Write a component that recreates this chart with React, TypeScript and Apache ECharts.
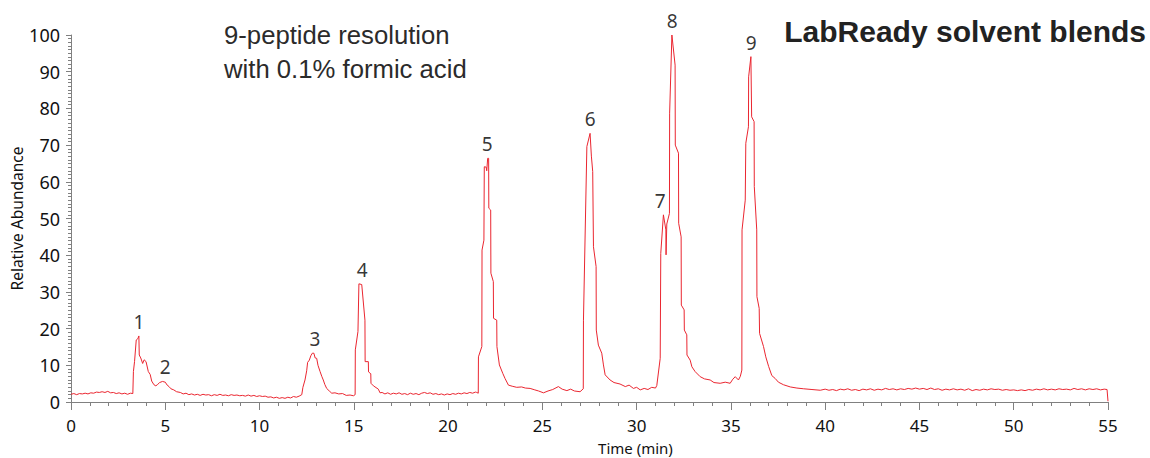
import React, { useEffect, useRef } from 'react';
import * as echarts from 'echarts';

// Chromatogram trace, [time (min), relative abundance (%)]
const baselineStart: number[][] = [
  [0, 2.1], [0.15, 2.3], [0.3, 2.0], [0.45, 2.3], [0.6, 2.2], [0.75, 2.4], [0.9, 2.2], [1.05, 2.5],
  [1.2, 2.4], [1.35, 2.7], [1.5, 2.6], [1.65, 2.8], [1.8, 2.6], [1.95, 2.9], [2.1, 2.5], [2.25, 2.6],
  [2.4, 2.3], [2.55, 2.5], [2.7, 2.2], [2.85, 2.4], [3.0, 2.1], [3.15, 2.4], [3.28, 2.3],
];
const peaks1and2: number[][] = [
  [3.3, 2.4], [3.31, 8.3], [3.37, 11.0], [3.46, 16.9], [3.55, 17.3], [3.6, 18.0], [3.62, 12.8],
  [3.7, 12.0], [3.8, 10.5], [3.88, 11.5], [3.98, 11.0], [4.1, 8.3], [4.2, 7.5], [4.28, 5.7],
  [4.4, 4.7], [4.5, 4.4], [4.6, 4.8], [4.7, 5.3], [4.85, 5.6], [5.0, 5.4], [5.1, 4.6], [5.2, 4.2],
  [5.3, 3.6], [5.45, 3.3], [5.6, 2.8],
];
const baselineMid1: number[][] = [
  [5.8, 2.6], [5.95, 2.2], [6.1, 2.4], [6.25, 2.0], [6.4, 2.2], [6.55, 1.9], [6.7, 2.1], [6.85, 1.8],
  [7.0, 2.1], [7.15, 1.9], [7.3, 2.0], [7.45, 1.7], [7.6, 2.0], [7.75, 1.8], [7.9, 2.1], [8.05, 1.8],
  [8.2, 1.9], [8.35, 1.7], [8.5, 2.0], [8.65, 1.8], [8.8, 1.9], [8.95, 1.7], [9.1, 1.8], [9.25, 1.6],
  [9.4, 1.9], [9.55, 1.6], [9.7, 1.8], [9.85, 1.5], [10.0, 1.7], [10.15, 1.5], [10.3, 1.6], [10.45, 1.3],
  [10.6, 1.4], [10.75, 1.1], [10.9, 1.3], [11.05, 1.0], [11.2, 1.2], [11.35, 1.0], [11.5, 1.3],
  [11.65, 1.1], [11.8, 1.5], [11.95, 1.3],
];
const peak3: number[][] = [
  [12.1, 1.6], [12.24, 2.0], [12.3, 4.0], [12.41, 6.0], [12.5, 8.5], [12.55, 10.8], [12.64, 11.4],
  [12.72, 12.6], [12.8, 13.3], [12.88, 13.3], [12.95, 12.0], [13.03, 11.9], [13.1, 10.0], [13.21, 8.3],
  [13.3, 7.0], [13.38, 6.0], [13.46, 4.8], [13.56, 3.7], [13.7, 3.0], [13.83, 2.4], [14.0, 2.5],
  [14.2, 2.2], [14.4, 2.3], [14.6, 1.8], [14.8, 1.9], [14.98, 1.7],
];
const peak4: number[][] = [
  [15.07, 2.0], [15.08, 14.2], [15.22, 19.2], [15.27, 32.2], [15.42, 32.0], [15.59, 22.3],
  [15.6, 11.0], [15.77, 11.0], [15.78, 8.2], [15.9, 7.7], [15.91, 5.1], [16.04, 4.4], [16.3, 3.5],
  [16.39, 2.5],
];
const baselineMid2: number[][] = [
  [16.5, 2.6], [16.65, 2.2], [16.8, 2.5], [16.95, 2.1], [17.1, 2.4], [17.25, 2.2], [17.4, 2.5],
  [17.55, 2.1], [17.7, 2.3], [17.85, 2.0], [18.0, 2.4], [18.15, 2.1], [18.3, 2.3], [18.45, 2.0],
  [18.6, 2.4], [18.75, 2.6], [18.9, 2.3], [19.05, 2.5], [19.2, 2.1], [19.35, 2.3], [19.5, 2.0],
  [19.65, 2.2], [19.8, 1.9], [19.95, 2.2], [20.1, 2.0], [20.25, 2.3], [20.4, 2.1], [20.55, 2.4],
  [20.7, 2.2], [20.85, 2.5], [21.0, 2.3], [21.15, 2.6], [21.3, 2.4], [21.45, 2.7],
];
const peaks5and6: number[][] = [
  [21.52, 2.6], [21.6, 2.4], [21.61, 12.3], [21.79, 15.1], [21.8, 41.4], [21.9, 44.1], [21.92, 64.1],
  [22.02, 64.0], [22.05, 63.0], [22.1, 66.4], [22.15, 66.4], [22.16, 52.8], [22.26, 52.3],
  [22.27, 35.1], [22.4, 32.8], [22.41, 22.8], [22.58, 22.3], [22.59, 15.1], [22.72, 10.1],
  [22.9, 7.8], [23.02, 6.4], [23.2, 4.6], [23.4, 4.3], [23.64, 4.0], [23.9, 4.1], [24.1, 3.8],
  [24.35, 3.7], [24.6, 3.3], [24.8, 3.0], [25.06, 2.5], [25.3, 3.0], [25.55, 3.4], [25.85, 4.2],
  [26.05, 3.5], [26.3, 3.1], [26.5, 3.5], [26.7, 3.0], [27.0, 2.8], [27.17, 3.6], [27.18, 22.3],
  [27.36, 69.6], [27.53, 73.2], [27.6, 67.0], [27.67, 62.8], [27.71, 42.3], [27.85, 36.9], [27.86, 19.6],
  [27.97, 15.5], [28.15, 13.3], [28.24, 10.1], [28.33, 7.4], [28.59, 6.0], [28.8, 5.3],
  [29.12, 4.9], [29.4, 4.2], [29.6, 4.6], [29.83, 3.7], [30.0, 4.0], [30.19, 3.3], [30.4, 3.7],
  [30.6, 3.4], [30.8, 4.0], [31.0, 3.8],
];
const peaks7to9: number[][] = [
  [31.07, 4.5], [31.25, 11.9], [31.28, 40.5], [31.42, 51.0], [31.55, 46.9], [31.56, 40.1],
  [31.6, 48.5], [31.74, 51.4], [31.75, 78.7], [31.87, 100], [32.04, 91.8], [32.05, 70.0],
  [32.22, 67.8], [32.23, 48.7], [32.36, 45.0], [32.37, 26.4], [32.52, 25.1], [32.53, 19.6],
  [32.66, 18.3], [32.67, 12.8], [32.84, 11.4], [32.93, 9.6], [33.1, 8.3], [33.37, 6.9], [33.6, 6.3],
  [33.9, 6.0], [34.1, 5.3], [34.43, 5.1], [34.7, 5.4], [34.96, 5.1], [35.1, 6.2], [35.23, 6.9],
  [35.4, 6.0], [35.5, 7.0], [35.58, 8.7], [35.59, 46.9], [35.76, 55.0], [35.79, 70.5], [35.93, 75.0],
  [35.94, 88.6], [36.06, 94.1], [36.1, 77.7], [36.23, 76.4], [36.24, 58.7], [36.37, 46.9],
  [36.38, 28.7], [36.5, 25.5], [36.52, 18.7], [36.73, 15.1], [36.85, 12.3], [37.0, 9.7],
  [37.17, 7.2], [37.35, 6.4], [37.52, 5.4], [37.79, 4.7], [38.15, 4.1], [38.5, 3.8], [38.86, 3.6],
  [39.3, 3.4], [39.74, 3.2],
];
const baselineEnd: number[][] = [
  [40.0, 3.5], [40.2, 3.2], [40.4, 3.4], [40.6, 3.1], [40.8, 3.5], [41.0, 3.3], [41.2, 3.6], [41.4, 3.2],
  [41.6, 3.4], [41.8, 3.1], [42.0, 3.5], [42.2, 3.3], [42.4, 3.6], [42.6, 3.2], [42.8, 3.5], [43.0, 3.3],
  [43.2, 3.7], [43.4, 3.4], [43.6, 3.6], [43.8, 3.3], [44.0, 3.6], [44.2, 3.4], [44.4, 3.7], [44.6, 3.5],
  [44.8, 3.8], [45.0, 3.5], [45.2, 3.7], [45.4, 3.4], [45.6, 3.8], [45.8, 3.4], [46.0, 3.6], [46.2, 3.2],
  [46.4, 3.5], [46.6, 3.3], [46.8, 3.6], [47.0, 3.3], [47.2, 3.5], [47.4, 3.2], [47.6, 3.6], [47.8, 3.1],
  [48.0, 3.4], [48.2, 3.2], [48.4, 3.5], [48.6, 3.3], [48.8, 3.6], [49.0, 3.4], [49.2, 3.5], [49.4, 3.2],
  [49.6, 3.4], [49.8, 3.2], [50.0, 3.3], [50.2, 3.1], [50.4, 3.3], [50.6, 3.1], [50.8, 3.4], [51.0, 3.2],
  [51.2, 3.5], [51.4, 3.3], [51.6, 3.6], [51.8, 3.3], [52.0, 3.5], [52.2, 3.3], [52.4, 3.6], [52.6, 3.4],
  [52.8, 3.5], [53.0, 3.3], [53.2, 3.7], [53.4, 3.4], [53.6, 3.6], [53.8, 3.3], [54.0, 3.6], [54.2, 3.4],
  [54.4, 3.6], [54.6, 3.3], [54.8, 3.5], [54.95, 3.4], [55.0, 0.2],
];

// Peak numbering labels
const peakNames = ['1', '2', '3', '4', '5', '6', '7', '8', '9'];
const peakTimes = [3.6, 4.99, 12.94, 15.44, 22.07, 27.53, 31.25, 31.88, 36.07];
const peakHeights = [18.0, 5.6, 13.3, 32.2, 66.4, 73.2, 51.0, 100, 94.1];

const xTicks = { min: 0, max: 55, interval: 5 };
const yTicks = { min: 0, max: 100, interval: 10 };

const titleLines = ['9-peptide resolution', 'with 0.1% formic acid'];
const brand = 'LabReady solvent blends';

const trace = [
  ...baselineStart, ...peaks1and2, ...baselineMid1, ...peak3, ...peak4,
  ...baselineMid2, ...peaks5and6, ...peaks7to9, ...baselineEnd,
];

const LABEL_FONT = '"Noto Sans", "Open Sans", sans-serif';
const TITLE_FONT = '"Liberation Sans", Arial, Helvetica, sans-serif';
const AXIS_GREY = '#808080';

export default function App() {
  const ref = useRef<HTMLDivElement>(null);
  useEffect(() => {
    if (!ref.current) return;
    const chart = echarts.init(ref.current, null, { renderer: 'svg' });
    chart.setOption({
      animation: false,
      backgroundColor: '#ffffff',
      title: [
        {
          text: titleLines.join('\n'),
          left: 224,
          top: 18,
          padding: 0,
          textStyle: { fontFamily: TITLE_FONT, fontSize: 25.7, fontWeight: 'normal', color: '#2b2b2b', lineHeight: 34 },
        },
        {
          text: brand,
          right: 4,
          top: 16,
          padding: 0,
          textStyle: { fontFamily: TITLE_FONT, fontSize: 30, fontWeight: 'bold', color: '#222222', lineHeight: 30 },
        },
      ],
      grid: { left: 71, right: 42, top: 35, bottom: 56, containLabel: false, outerBoundsMode: 'none' },
      xAxis: {
        type: 'value',
        min: xTicks.min,
        max: xTicks.max,
        interval: xTicks.interval,
        name: 'Time (min)',
        nameLocation: 'middle',
        nameGap: 38,
        nameMoveOverlap: false,
        nameTextStyle: { fontFamily: LABEL_FONT, fontSize: 15, lineHeight: 15, color: '#111', padding: [0, 0, 0, 92] },
        axisLine: { show: true, lineStyle: { color: AXIS_GREY, width: 1 } },
        axisTick: { show: true, length: 8, lineStyle: { color: AXIS_GREY, width: 1 } },
        minorTick: { show: true, splitNumber: 5, length: 4, lineStyle: { color: AXIS_GREY, width: 1 } },
        axisLabel: { fontFamily: LABEL_FONT, fontSize: 17, lineHeight: 18, color: '#111', margin: 14 },
        splitLine: { show: false },
        minorSplitLine: { show: false },
      },
      yAxis: {
        type: 'value',
        min: yTicks.min,
        max: yTicks.max,
        interval: yTicks.interval,
        name: 'Relative Abundance',
        nameLocation: 'middle',
        nameGap: 46,
        nameRotate: 90,
        nameMoveOverlap: false,
        nameTextStyle: { fontFamily: LABEL_FONT, fontSize: 15.5, color: '#111' },
        axisLine: { show: true, lineStyle: { color: AXIS_GREY, width: 1 } },
        axisTick: { show: true, length: 5, lineStyle: { color: AXIS_GREY, width: 1 } },
        minorTick: { show: true, splitNumber: 10, length: 3, lineStyle: { color: AXIS_GREY, width: 1 } },
        axisLabel: { fontFamily: LABEL_FONT, fontSize: 18, color: '#111', margin: 11 },
        splitLine: { show: false },
        minorSplitLine: { show: false },
      },
      series: [
        {
          type: 'line',
          data: trace,
          showSymbol: false,
          symbol: 'none',
          silent: true,
          lineStyle: { color: '#ea2630', width: 1 },
          z: 3,
        },
        {
          type: 'scatter',
          data: peakNames.map((n, i) => [peakTimes[i], peakHeights[i], n]),
          symbolSize: 1,
          itemStyle: { color: 'rgba(0,0,0,0)' },
          silent: true,
          label: {
            show: true,
            position: 'top',
            distance: 4,
            formatter: (p: any) => p.data[2],
            fontFamily: LABEL_FONT,
            fontSize: 19,
            color: '#000',
          },
          z: 4,
        },
      ],
    });
    return () => chart.dispose();
  }, []);
  return (
    <div
      ref={ref}
      style={{ position: 'absolute', left: 0, top: 0, width: 1150, height: 458, background: '#fff' }}
    />
  );
}
